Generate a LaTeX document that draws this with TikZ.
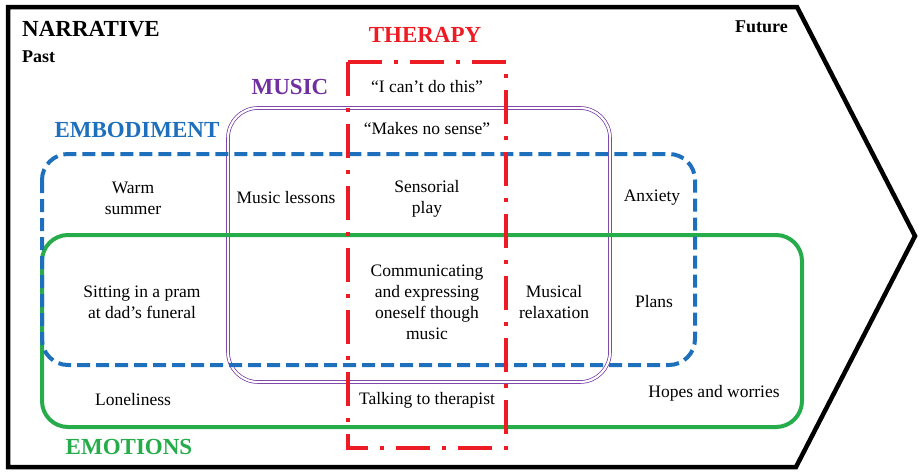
\documentclass[tikz,border=0pt]{standalone}
\usepackage{fontspec}
\setmainfont{Liberation Serif}
\definecolor{tred}{RGB}{237,28,36}
\definecolor{mpurple}{RGB}{112,48,160}
\definecolor{eblue}{RGB}{30,112,188}
\definecolor{egreen}{RGB}{38,172,74}
\begin{document}
\begin{tikzpicture}[x=1pt,y=-1pt,
  txt/.style={font=\fontsize{17.5}{21}\selectfont, align=center, inner sep=0pt},
  ttl/.style={font=\fontsize{23}{26}\selectfont\bfseries, inner sep=0pt},
  subttl/.style={font=\fontsize{18}{20}\selectfont\bfseries, inner sep=0pt},
  musicbox/.style={draw=mpurple, line width=0.7pt, double=white, double distance=2.2pt, rounded corners=30pt},
  embbox/.style={draw=eblue, line width=4pt, dash pattern=on 13pt off 6pt, rounded corners=26pt},
  emobox/.style={draw=egreen, line width=4pt, rounded corners=26pt},
  therbox/.style={draw=tred, line width=4pt, dash pattern=on 34pt off 12pt on 4pt off 12pt}]
\useasboundingbox (0,0) rectangle (923,471);
% narrative arrow
\draw[line width=4.5pt, line join=miter] (8,7) -- (797,7) -- (915,236) -- (796,467) -- (8,467) -- cycle;
% sets
\draw[musicbox] (228,108) rectangle (610,382);
\draw[emobox] (42,235) rectangle (802,427);
\draw[embbox] (42,154) rectangle (695,365);
\draw[therbox] (348,62) -- (506,62) -- (506,448) -- (348,448) -- cycle;
% titles
\node[ttl, anchor=west] (narr) at (22,29) {NARRATIVE};
\node[subttl, anchor=west] (past) at (22,57) {Past};
\node[subttl, anchor=east] (fut) at (788,27) {Future};
\node[ttl, text=tred] (ther) at (425,35) {THERAPY};
\node[ttl, text=mpurple] (mus) at (290,87) {MUSIC};
\node[ttl, text=eblue] (emb) at (137,130) {EMBODIMENT};
\node[ttl, text=egreen] (emo) at (129,447) {EMOTIONS};
% items
\node[txt] (cant) at (427,87) {“I can’t do this”};
\node[txt] (sense) at (427,129) {“Makes no sense”};
\node[txt] (warm) at (133,198) {Warm\\summer};
\node[txt] (lessons) at (286,198) {Music lessons};
\node[txt] (sens) at (427,199) {Sensorial\\play};
\node[txt] (anx) at (652,198) {Anxiety};
\node[txt] (pram) at (142,302) {Sitting in a pram\\at dad’s funeral};
\node[txt] (comm) at (427,302) {Communicating\\and expressing\\oneself though\\music};
\node[txt] (relax) at (554,302) {Musical\\relaxation};
\node[txt] (plans) at (654,302) {Plans};
\node[txt] (lone) at (133,400) {Loneliness};
\node[txt] (talk) at (427,400) {Talking to therapist};
\node[txt] (hopes) at (714,393) {Hopes and worries};
\end{tikzpicture}
\end{document}
